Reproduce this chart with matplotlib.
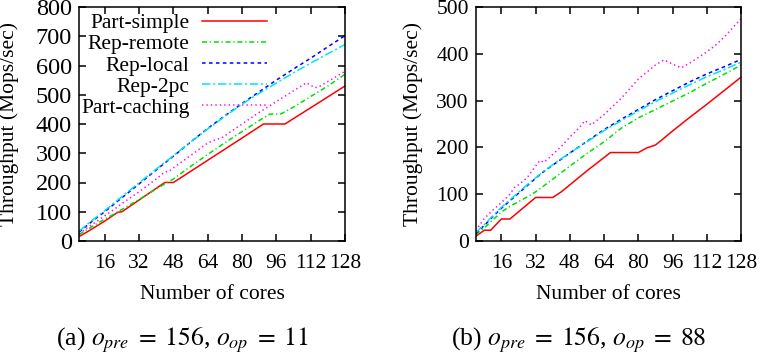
import matplotlib
matplotlib.use('Agg')
import matplotlib.pyplot as plt

plt.rcParams['font.family'] = ['Liberation Serif', 'DejaVu Serif']
plt.rcParams['mathtext.fontset'] = 'stix'
plt.rcParams['font.size'] = 15.5
plt.rcParams['lines.scale_dashes'] = False

labels = ['Part-simple', 'Rep-remote', 'Rep-local', 'Rep-2pc', 'Part-caching']
colors = ['#ff0000', '#00e000', '#0000ff', '#00e5ee', '#ff00ff']
dashes = [None, (3.6, 2.0, 0.9, 2.0), (2.6, 2.4), (6.0, 2.0, 1.5, 2.0), (1.0, 2.2)]

# (a) o_pre = 156, o_op = 11
red_a_x = [4, 8, 12, 16, 20, 22, 24, 32, 40, 44, 48, 56, 64, 72, 80, 90, 100, 108, 116, 128]
red_a_y = [15, 32, 50, 68, 88, 98, 100, 140, 180, 200, 200, 238, 276, 314, 352, 400, 400, 437, 474, 530]
green_a_x = [4, 8, 12, 16, 20, 24, 28, 32, 40, 48, 56, 64, 72, 80, 88, 93, 98, 104, 112, 120, 128]
green_a_y = [22, 40, 58, 75, 91, 108, 125, 142, 178, 212, 255, 296, 336, 374, 412, 434, 434, 458, 494, 530, 570]
rep_a_x = [4, 8, 12, 16, 24, 32, 40, 48, 56, 64, 72, 80, 88, 96, 104, 112, 120, 128]
blue_a_y = [30, 55, 78, 100, 148, 195, 243, 290, 338, 385, 428, 470, 510, 550, 588, 625, 664, 702]
cyan_a_y = [33, 58, 81, 104, 152, 199, 246, 292, 338, 383, 426, 468, 505, 540, 575, 608, 640, 672]
mag_a_x = [4, 8, 12, 16, 20, 24, 28, 32, 36, 40, 44, 46, 48, 56, 64, 68, 70, 80, 88, 92, 100, 110, 114, 116, 120, 128]
mag_a_y = [25, 46, 66, 86, 106, 128, 148, 168, 190, 212, 236, 238, 250, 292, 335, 348, 350, 400, 440, 458, 495, 541, 524, 528, 545, 580]

# (b) o_pre = 156, o_op = 88
red_b_x = [4, 8, 11, 16, 20, 32, 40, 44, 48, 56, 67, 80, 84, 88, 91, 96, 104, 112, 120, 128]
red_b_y = [10, 23, 23, 47, 47, 93, 93, 105, 120, 150, 189, 189, 199, 205, 216, 235, 264, 292, 321, 350]
green_b_x = [4, 8, 12, 16, 20, 24, 28, 32, 40, 48, 56, 64, 72, 80, 88, 96, 104, 112, 120, 128]
green_b_y = [14, 28, 45, 62, 74, 84, 94, 105, 132, 160, 187, 212, 241, 263, 281, 299, 317, 337, 356, 376]
rep_b_x = [4, 8, 12, 16, 20, 24, 28, 32, 36, 40, 44, 48, 56, 64, 72, 80, 88, 96, 104, 112, 120, 128]
blue_b_y = [16, 33, 52, 70, 86, 102, 118, 134, 149, 162, 175, 188, 213, 238, 260, 281, 302, 321, 340, 357, 372, 388]
cyan_b_y = [18, 35, 54, 72, 88, 104, 120, 135, 150, 163, 176, 188, 212, 236, 257, 278, 298, 316, 334, 351, 366, 382]
mag_b_x = [4, 8, 12, 16, 20, 22, 24, 28, 32, 34, 36, 40, 44, 48, 52, 55, 58, 64, 72, 80, 88, 92, 96, 100,
           104, 108, 112, 116, 120, 124, 128]
mag_b_y = [22, 48, 66, 82, 100, 114, 120, 135, 160, 172, 168, 185, 202, 222, 240, 257, 248, 270, 305, 346, 376,
           387, 378, 370, 380, 392, 404, 418, 435, 455, 475]

xticks = [16, 32, 48, 64, 80, 96, 112, 128]

series_a = [(red_a_x, red_a_y), (green_a_x, green_a_y), (rep_a_x, blue_a_y), (rep_a_x, cyan_a_y), (mag_a_x, mag_a_y)]
series_b = [(red_b_x, red_b_y), (green_b_x, green_b_y), (rep_b_x, blue_b_y), (rep_b_x, cyan_b_y), (mag_b_x, mag_b_y)]

fig = plt.figure(figsize=(7.61, 3.6), dpi=100)
ax1 = fig.add_axes([79 / 761, 1 - 241 / 360, 266 / 761, 234 / 360])
ax2 = fig.add_axes([475.7 / 761, 1 - 241 / 360, 265.3 / 761, 234 / 360])


def draw(ax, series, ymax, ylab_x, ysize):
    for (xs, ys), lab, c, d in zip(series, labels, colors, dashes):
        line, = ax.plot(xs, ys, color=c, lw=1.1, label=lab)
        if d is not None:
            line.set_dashes(d)
    ax.set_xlim(4, 128)
    ax.set_ylim(0, ymax)
    ax.set_xticks(xticks)
    ax.set_yticks(range(0, ymax + 1, 100))
    ax.tick_params(direction='in', top=True, right=True, length=5, width=1.1)
    ax.tick_params(axis='x', pad=9)
    ax.tick_params(axis='y', pad=5, labelsize=ysize)
    for s in ax.spines.values():
        s.set_linewidth(1.1)
    ax.set_xlabel('Number of cores', labelpad=9)
    ax.set_ylabel('Throughput (Mops/sec)')
    ax.yaxis.set_label_coords(ylab_x, 0.5)


draw(ax1, series_a, 800, -0.225, 17.5)
draw(ax2, series_b, 500, -0.2, 15.5)

ax1.legend(loc='upper left', bbox_to_anchor=(-0.025, 1.01), frameon=False, markerfirst=False,
           handlelength=3.0, handletextpad=0.6, labelspacing=0.05, borderaxespad=0.0)

fig.text(182 / 761, 1 - 340 / 360, r'(a) $o_{pre}\;=\;156$, $o_{op}\;=\;11$', ha='center', va='center',
         fontsize=18.5)
fig.text(579 / 761, 1 - 340 / 360, r'(b) $o_{pre}\;=\;156$, $o_{op}\;=\;88$', ha='center', va='center',
         fontsize=18.5)

fig.savefig('out.png', dpi=100)
